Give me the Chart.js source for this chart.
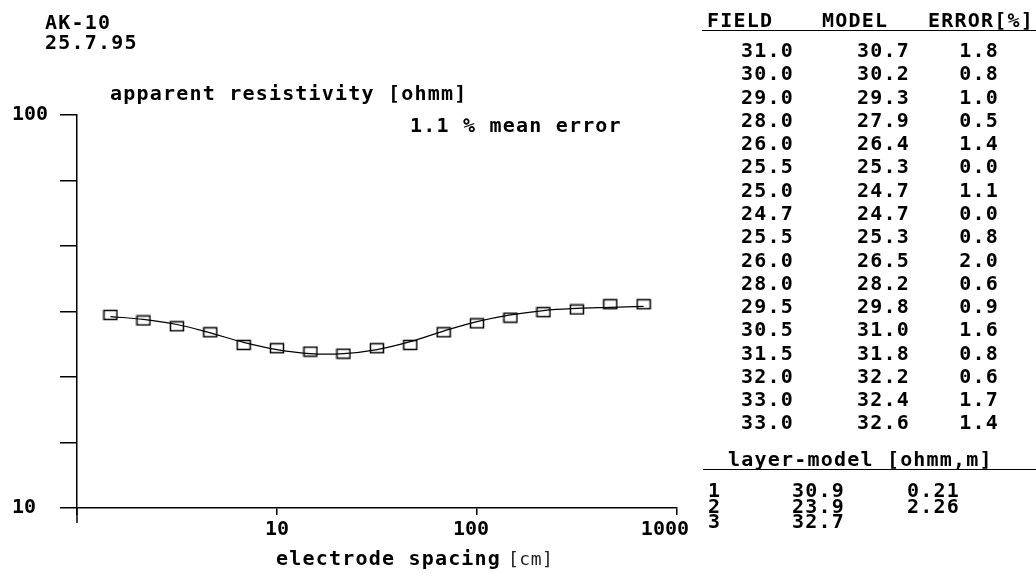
<!DOCTYPE html>
<html>
<head>
<meta charset="utf-8">
<title>AK-10 apparent resistivity sounding</title>
<script src="https://cdn.jsdelivr.net/npm/chart.js@4.4.1/dist/chart.umd.min.js"></script>
<style>
  html, body { margin: 0; padding: 0; background: #fff; }
  #wrap { position: relative; width: 1036px; height: 573px; overflow: hidden;
          font-family: 'DejaVu Sans Mono', monospace; color: #000; }
  #wrap canvas { position: absolute; left: 0; top: 0; }
  .t { position: absolute; letter-spacing: 1.2px; white-space: pre; }
  .b { font-weight: bold; }
  .rule { position: absolute; height: 0; border-top: 1.5px solid #000; }
</style>
</head>
<body>
<div id="wrap"><canvas id="c" width="1036" height="573"></canvas></div>
<script>
// Electrode spacing [cm] of each reading
const spacing = [1.47, 2.15, 3.16, 4.64, 6.81, 10, 14.7, 21.5, 31.6, 46.4, 68.1, 100, 147, 215, 316, 464, 681];
// Measured apparent resistivity [ohmm]
const fieldRho = [31.0, 30.0, 29.0, 28.0, 26.0, 25.5, 25.0, 24.7, 25.5, 26.0, 28.0, 29.5, 30.5, 31.5, 32.0, 33.0, 33.0];
// Apparent resistivity of the fitted layer model [ohmm]
const modelRho = [30.7, 30.2, 29.3, 27.9, 26.4, 25.3, 24.7, 24.7, 25.3, 26.5, 28.2, 29.8, 31.0, 31.8, 32.2, 32.4, 32.6];
// Misfit per reading [%]
const errorPct = [1.8, 0.8, 1.0, 0.5, 1.4, 0.0, 1.1, 0.0, 0.8, 2.0, 0.6, 0.9, 1.6, 0.8, 0.6, 1.7, 1.4];
// Layer model: resistivity [ohmm] and thickness [m]
const layerRho = [30.9, 23.9, 32.7];
const layerThick = [0.21, 2.26];
const meanError = 1.1;
// Axis ticks
const xTicks = [1, 10, 100, 1000];
const xTickLabels = ['', '10', '100', '1000'];
const yTicks = [10, 14.68, 21.54, 31.62, 46.42, 68.13, 100];
const yTickLabels = ['10', '', '', '', '', '', '100'];

const FONT = "'DejaVu Sans Mono', monospace";
const wrap = document.getElementById('wrap');

// place a line of text by its left (or right) edge and baseline
function put(text, x, base, opts = {}) {
  const d = document.createElement('div');
  d.className = 't' + (opts.light ? '' : ' b');
  d.textContent = text;
  const size = opts.size || 20;
  d.style.fontSize = size + 'px';
  d.style.lineHeight = size + 'px';
  d.style.top = (base - size * 0.846) + 'px';
  if (opts.right) d.style.right = (1036 - x - 2) + 'px';
  else d.style.left = x + 'px';
  if (opts.color) d.style.color = opts.color;
  if (opts.spacing !== undefined) d.style.letterSpacing = opts.spacing + 'px';
  wrap.appendChild(d);
}
function rule(x, y, w) {
  const d = document.createElement('div');
  d.className = 'rule';
  d.style.left = x + 'px';
  d.style.top = y + 'px';
  d.style.width = w + 'px';
  wrap.appendChild(d);
}

// headings and axis titles
put('AK-10', 45, 29);
put('25.7.95', 45, 49);
put('apparent resistivity [ohmm]', 110, 100);
put(meanError.toFixed(1) + ' % mean error', 410, 132);
put('electrode spacing', 276, 565);
put('[cm]', 508, 565, { size: 18, spacing: 0.5, color: '#222', light: true });

// data table
put('FIELD', 707, 27);
put('MODEL', 822, 27);
put('ERROR[%]', 928, 27);
rule(702, 30, 334);
fieldRho.forEach((v, i) => {
  const base = 57 + 23.27 * i;
  put(v.toFixed(1), 792, base, { right: true });
  put(modelRho[i].toFixed(1), 908, base, { right: true });
  put(errorPct[i].toFixed(1), 997, base, { right: true });
});

// layer model
put('layer-model [ohmm,m]', 728, 466);
rule(703, 469, 333);
layerRho.forEach((v, i) => {
  const base = 497 + 15.5 * i;
  put(String(i + 1), 708, base);
  put(v.toFixed(1), 792, base);
  if (i < layerThick.length) put(layerThick[i].toFixed(2), 907, base);
});

// open rectangle marker for the field readings
const rectMarker = (() => {
  const c = document.createElement('canvas');
  c.width = 16; c.height = 12;
  const g = c.getContext('2d');
  g.strokeStyle = '#000';
  g.lineWidth = 1.5;
  g.strokeRect(1.5, 1.5, 13, 9);
  return c;
})();

// short stub of the spacing axis below its origin
const axisStub = {
  id: 'axisStub',
  afterDraw(chart) {
    const { ctx, chartArea: a } = chart;
    ctx.save();
    ctx.strokeStyle = '#000';
    ctx.lineWidth = 1.5;
    ctx.beginPath();
    ctx.moveTo(a.left, a.bottom);
    ctx.lineTo(a.left, a.bottom + 15);
    ctx.stroke();
    ctx.restore();
  }
};

const tickFont = { family: FONT, size: 20, weight: 'bold' };

new Chart(document.getElementById('c'), {
  type: 'line',
  data: {
    datasets: [
      {
        label: 'model',
        data: spacing.map((x, i) => ({ x, y: modelRho[i] })),
        borderColor: '#000',
        borderWidth: 1.2,
        pointRadius: 0,
        tension: 0.4,
        fill: false
      },
      {
        label: 'field',
        data: spacing.map((x, i) => ({ x, y: fieldRho[i] })),
        showLine: false,
        pointStyle: rectMarker,
        pointRadius: 7,
        borderColor: '#000'
      }
    ]
  },
  options: {
    responsive: false,
    animation: false,
    events: [],
    layout: { padding: { left: 12, top: 115, right: 359, bottom: 0 } },
    plugins: { legend: { display: false }, tooltip: { enabled: false }, title: { display: false } },
    scales: {
      x: {
        type: 'logarithmic',
        min: 1, max: 1000,
        afterBuildTicks: s => { s.ticks = xTicks.map(v => ({ value: v })); },
        afterFit: s => { s.height = 65; },
        grid: { display: true, drawOnChartArea: false, drawTicks: true, tickLength: 7, color: '#000', lineWidth: 1.5 },
        border: { display: true, color: '#000', width: 1.5 },
        ticks: {
          autoSkip: false, maxRotation: 0, minRotation: 0,
          align: 'end', labelOffset: 12, padding: 3,
          color: '#000', font: tickFont,
          callback: (v, i) => xTickLabels[i]
        }
      },
      y: {
        type: 'logarithmic',
        min: 10, max: 100,
        afterBuildTicks: s => { s.ticks = yTicks.map(v => ({ value: v })); },
        afterFit: s => { s.width = 65; },
        grid: { display: true, drawOnChartArea: false, drawTicks: true, tickLength: 17, color: '#000', lineWidth: 1.5 },
        border: { display: true, color: '#000', width: 1.5 },
        ticks: {
          autoSkip: false, crossAlign: 'far',
          color: '#000', font: tickFont,
          callback: (v, i) => yTickLabels[i]
        }
      }
    }
  },
  plugins: [axisStub]
});
</script>
</body>
</html>
